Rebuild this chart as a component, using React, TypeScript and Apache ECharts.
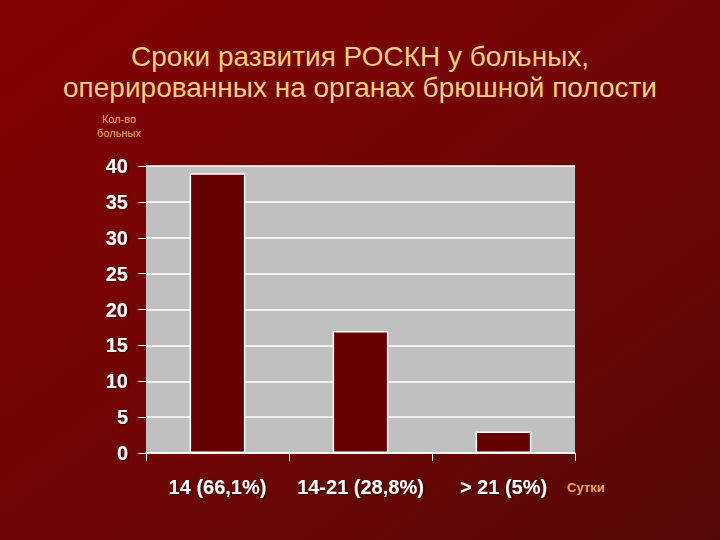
import React, { useEffect, useRef } from "react";
import * as echarts from "echarts";

const titleLines = ["Сроки развития РОСКН у больных,", "оперированных на органах брюшной полости"];
const categories = ["14 (66,1%)", "14-21 (28,8%)", "> 21 (5%)"];
const values = [39, 17, 3];
const yAxisName = ["Кол-во", "больных"];
const xAxisName = "Сутки";

export default function App() {
  const ref = useRef<HTMLDivElement>(null);
  useEffect(() => {
    if (!ref.current) return;
    const chart = echarts.init(ref.current, undefined, { renderer: "svg" });
    chart.setOption({
      animation: false,
      backgroundColor: {
        type: "linear",
        x: 0,
        y: 0,
        x2: 1,
        y2: 1,
        colorStops: [
          { offset: 0, color: "#820202" },
          { offset: 0.5, color: "#710505" },
          { offset: 1, color: "#560808" },
        ],
      },
      title: {
        text: titleLines.join("\n"),
        left: "center",
        top: 36,
        textStyle: {
          color: "#f2cf7c",
          fontFamily: "Liberation Sans, Arial, sans-serif",
          fontSize: 28,
          fontWeight: "normal",
          lineHeight: 31,
        },
      },
      graphic: [
        {
          type: "text",
          x: 119,
          y: 126,
          style: {
            text: yAxisName.join("\n"),
            fill: "#e8a860",
            font: "11px Liberation Sans, Arial, sans-serif",
            align: "center",
            verticalAlign: "middle",
            lineHeight: 14,
          },
        },
        {
          type: "text",
          x: 567,
          y: 487,
          style: {
            text: xAxisName,
            fill: "#e8a860",
            font: "bold 13px Liberation Sans, Arial, sans-serif",
            align: "left",
            verticalAlign: "middle",
          },
        },
      ],
      grid: { left: 146, right: 145, top: 166, bottom: 87, show: true, backgroundColor: "#c0c0c0", borderWidth: 0 },
      xAxis: {
        type: "category",
        data: categories,
        boundaryGap: true,
        axisLine: { show: true, lineStyle: { color: "#ffffff", width: 1.5 } },
        axisTick: { show: true, alignWithLabel: false, length: 8, lineStyle: { color: "#ffffff" } },
        axisLabel: {
          color: "#ffffff",
          fontFamily: "Liberation Sans, Arial, sans-serif",
          fontSize: 20,
          fontWeight: "bold",
          margin: 24,
          interval: 0,
          textShadowColor: "rgba(0,0,0,0.5)",
          textShadowBlur: 2,
          textShadowOffsetX: 1,
          textShadowOffsetY: 1,
        },
      },
      yAxis: {
        type: "value",
        min: 0,
        max: 40,
        interval: 5,
        axisLine: { show: false },
        axisTick: { show: true, length: 8, lineStyle: { color: "#ffffff" } },
        splitLine: { show: true, lineStyle: { color: "#ffffff", width: 1.5 } },
        axisLabel: {
          color: "#ffffff",
          fontFamily: "Liberation Sans, Arial, sans-serif",
          fontSize: 20,
          fontWeight: "bold",
          margin: 18,
          textShadowColor: "rgba(0,0,0,0.5)",
          textShadowBlur: 2,
          textShadowOffsetX: 1,
          textShadowOffsetY: 1,
        },
      },
      series: [
        {
          type: "bar",
          data: values,
          barWidth: "39%",
          itemStyle: { color: "#640000", borderColor: "#ffffff", borderWidth: 1.5 },
        },
      ],
    });
    return () => chart.dispose();
  }, []);
  return <div ref={ref} style={{ position: "absolute", left: 0, top: 0, width: 720, height: 540 }} />;
}
